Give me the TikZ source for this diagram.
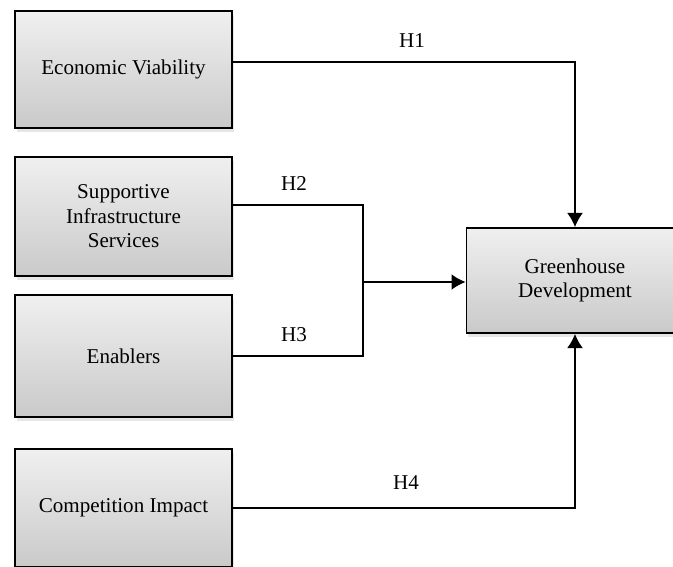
\documentclass[tikz,border=0pt]{standalone}
\usepackage{fontspec}
\setmainfont{Liberation Serif}
\usetikzlibrary{arrows.meta,shadows}

\tikzset{
  factor/.style={draw, line width=1.1pt, minimum width=4.34cm, align=center,
    top color=gray!12, bottom color=gray!42,
    drop shadow={shadow xshift=1pt, shadow yshift=-2pt, opacity=0.2},
    font=\fontsize{12}{14}\selectfont},
  link/.style={line width=0.85pt},
  hyp/.style={font=\fontsize{12}{14}\selectfont},
}

\begin{document}
\begin{tikzpicture}[x=0.02cm, y=-0.02cm, >={Latex[length=8pt,width=9pt]}]
    \useasboundingbox (0,0) rectangle (673,566);

    % Factors
    \node[factor, minimum height=2.34cm] (econ) at (123.5,69.5) {Economic Viability};
    \node[factor, minimum height=2.38cm] (supp) at (123.5,216.5) {Supportive\\Infrastructure\\Services};
    \node[factor, minimum height=2.44cm] (ena) at (123.5,356) {Enablers};
    \node[factor, minimum height=2.36cm] (comp) at (123.5,508) {Competition Impact};

    % Outcome
    \node[factor, minimum height=2.1cm] (green) at (575,280.5) {Greenhouse\\Development};

    % Arrows
    \coordinate (join) at (363,282);
    \draw[link, ->] (econ.east |- 0,62) -| (green.north);
    \draw[link] (supp.east |- 0,205) -| (join);
    \draw[link] (ena.east) -| (join);
    \draw[link, ->] (join) -- (join -| green.west);
    \draw[link, ->] (comp.east) -| (green.south);

    % Labels
    \node[hyp] (h1) at (412,41) {H1};
    \node[hyp] (h2) at (294,184) {H2};
    \node[hyp] (h3) at (294,335) {H3};
    \node[hyp] (h4) at (406,483) {H4};
\end{tikzpicture}
\end{document}
